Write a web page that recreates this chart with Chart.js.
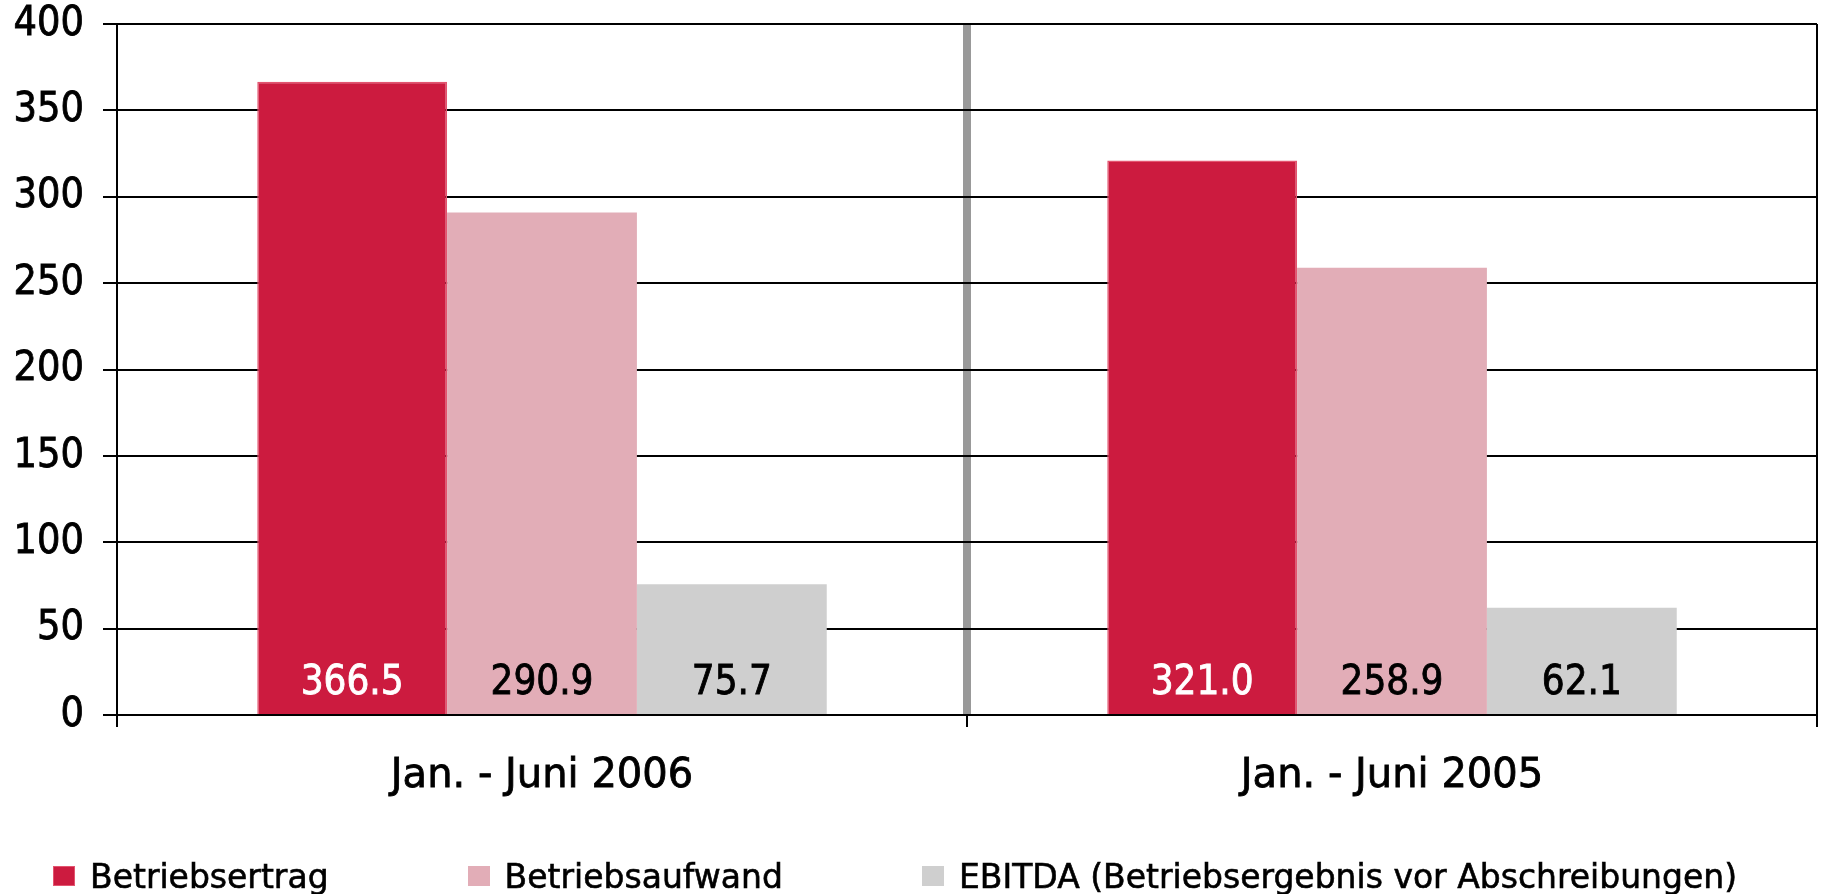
<!DOCTYPE html>
<html lang="de">
<head>
<meta charset="utf-8">
<title>Betriebsertrag, Betriebsaufwand, EBITDA</title>
<script src="https://cdn.jsdelivr.net/npm/chart.js@4/dist/chart.umd.min.js"></script>
<style>
  html, body { margin: 0; padding: 0; background: #fff; }
  #wrap { position: relative; width: 1826px; height: 894px; }
  #legend {
    position: absolute;
    left: 53px;
    top: 856px;
    height: 40px;
    display: flex;
    align-items: center;
    gap: 139px;
    font-family: "DejaVu Sans", sans-serif;
    font-size: 33px;
    color: #000;
    white-space: nowrap;
    -webkit-text-stroke: 0.6px #000;
  }
  .legend-item { display: flex; align-items: center; }
  .legend-box { width: 22px; height: 20px; margin-right: 15px; box-sizing: border-box; }
</style>
</head>
<body>
<div id="wrap">
  <canvas id="chart" width="1826" height="894"></canvas>
  <div id="legend"></div>
</div>
<script>
const periods = ["Jan. - Juni 2006", "Jan. - Juni 2005"];
const seriesNames = ["Betriebsertrag", "Betriebsaufwand", "EBITDA (Betriebsergebnis vor Abschreibungen)"];
const betriebsertrag = [366.5, 321.0];
const betriebsaufwand = [290.9, 258.9];
const ebitda = [75.7, 62.1];
const yTicks = [0, 50, 100, 150, 200, 250, 300, 350, 400];

const colors = ["#CC1B3F", "#E2ADB7", "#CFCFCF"];
const borders = ["#E3546F", "#E2ADB7", "#CFCFCF"];
const labelColors = ["#fff", "#000", "#000"];
const numberFont = "'DejaVu Sans Condensed', 'DejaVu Sans', sans-serif";

document.addEventListener("DOMContentLoaded", () => {
  const ctx = document.getElementById("chart").getContext("2d");

  // values written at the foot of each bar
  const barValues = {
    id: "barValues",
    afterDatasetsDraw(chart) {
      const c = chart.ctx;
      c.save();
      c.font = "40px " + numberFont;
      c.textAlign = "center";
      c.textBaseline = "middle";
      c.lineWidth = 0.8;
      chart.data.datasets.forEach((ds, i) => {
        chart.getDatasetMeta(i).data.forEach((bar, j) => {
          const txt = ds.data[j].toFixed(1);
          c.fillStyle = labelColors[i];
          c.strokeStyle = labelColors[i];
          c.strokeText(txt, bar.x, bar.base - 30);
          c.fillText(txt, bar.x, bar.base - 30);
        });
      });
      c.restore();
    },
  };

  const values = [betriebsertrag, betriebsaufwand, ebitda];

  new Chart(ctx, {
    type: "bar",
    data: {
      labels: periods,
      datasets: values.map((data, i) => ({
        label: seriesNames[i],
        data: data,
        backgroundColor: colors[i],
        borderColor: borders[i],
        borderWidth: i === 0 ? 1.5 : 0,
        categoryPercentage: 0.67,
        barPercentage: 1.0,
      })),
    },
    options: {
      responsive: false,
      animation: false,
      layout: { padding: { left: 8, right: 9, top: 0, bottom: 79 } },
      plugins: {
        legend: { display: false },
        tooltip: { enabled: false },
      },
      scales: {
        x: {
          offset: true,
          afterFit: (scale) => {
            scale.height = 100;
          },
          grid: {
            offset: true,
            drawOnChartArea: true,
            color: (c) => (c.index === 1 ? "#999" : "#000"),
            lineWidth: (c) => (c.index === 1 ? 8 : 2),
            tickColor: "#000",
            tickWidth: 2,
            tickLength: 12,
          },
          border: { display: true, color: "#000", width: 2 },
          ticks: {
            color: "#000",
            textStrokeColor: "#000",
            textStrokeWidth: 0.8,
            padding: 26,
            maxRotation: 0,
            font: { family: "'DejaVu Sans', sans-serif", size: 40 },
          },
        },
        y: {
          min: 0,
          max: 400,
          afterBuildTicks: (scale) => {
            scale.ticks = yTicks.map((v) => ({ value: v }));
          },
          afterFit: (scale) => {
            scale.width = 109;
            scale.paddingTop = 24;
            scale.paddingBottom = 24;
          },
          grid: {
            color: "#000",
            lineWidth: 2,
            tickLength: 14,
          },
          border: { display: true, color: "#000", width: 2 },
          ticks: {
            color: "#000",
            textStrokeColor: "#000",
            textStrokeWidth: 0.8,
            padding: 19,
            font: { family: numberFont, size: 41 },
          },
        },
      },
    },
    plugins: [barValues],
  });

  const legend = document.getElementById("legend");
  seriesNames.forEach((name, i) => {
    const item = document.createElement("div");
    item.className = "legend-item";
    item.innerHTML = `<span class="legend-box" style="background:${colors[i]};border:${i === 0 ? "1.5px solid " + borders[0] : "none"}"></span><span>${name}</span>`;
    legend.appendChild(item);
  });
});
</script>
</body>
</html>
